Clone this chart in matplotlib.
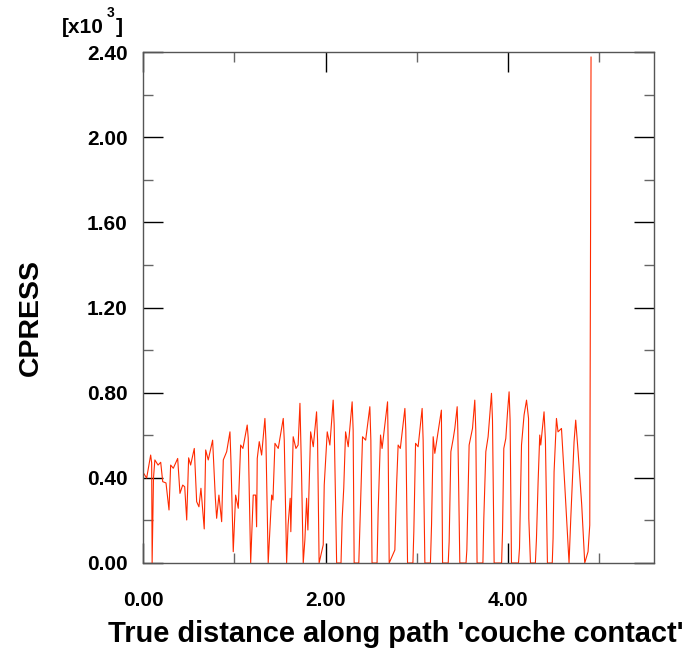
import matplotlib.pyplot as plt
from matplotlib.ticker import FixedLocator, FormatStrFormatter

plt.rcParams["font.family"] = ["Liberation Sans", "DejaVu Sans"]

# path distance and contact pressure
distance = [
    0.00, 0.04, 0.084, 0.095, 0.10, 0.115, 0.13, 0.165, 0.194, 0.216,
    0.252, 0.285, 0.303, 0.332, 0.38, 0.405, 0.435, 0.457, 0.479, 0.50,
    0.522, 0.562, 0.588, 0.613, 0.635, 0.671, 0.687, 0.715, 0.763, 0.792,
    0.807, 0.832, 0.862, 0.88, 0.917, 0.953, 0.964, 0.989, 1.015, 1.044,
    1.07, 1.095, 1.142, 1.153, 1.18, 1.208, 1.234, 1.245, 1.252, 1.274,
    1.30, 1.336, 1.347, 1.372, 1.41, 1.424, 1.446, 1.482, 1.537, 1.548,
    1.574, 1.59, 1.613, 1.62, 1.646, 1.676, 1.70, 1.72, 1.738, 1.756,
    1.774, 1.793, 1.807, 1.837, 1.866, 1.902, 1.913, 1.93, 1.975, 1.986,
    2.019, 2.048, 2.084, 2.095, 2.122, 2.17, 2.183, 2.20, 2.22, 2.249,
    2.292, 2.303, 2.314, 2.365, 2.377, 2.406, 2.44, 2.486, 2.497, 2.51,
    2.565, 2.577, 2.603, 2.62, 2.68, 2.686, 2.698, 2.76, 2.779, 2.796,
    2.82, 2.87, 2.88, 2.899, 2.958, 2.968, 2.987, 3.015, 3.059, 3.07,
    3.089, 3.15, 3.162, 3.18, 3.198, 3.27, 3.283, 3.345, 3.355, 3.374,
    3.40, 3.417, 3.443, 3.45, 3.472, 3.54, 3.549, 3.574, 3.611, 3.636,
    3.647, 3.661, 3.725, 3.735, 3.757, 3.782, 3.819, 3.83, 3.848, 3.93,
    3.94, 3.954, 3.976, 3.995, 4.012, 4.023, 4.038, 4.115, 4.126, 4.148,
    4.176, 4.203, 4.225, 4.228, 4.246, 4.30, 4.312, 4.33, 4.348, 4.359,
    4.395, 4.41, 4.432, 4.485, 4.494, 4.505, 4.531, 4.548, 4.586, 4.622,
    4.669, 4.688, 4.724, 4.742, 4.768, 4.808, 4.841, 4.877, 4.896, 4.91,
]
cpress = [
    426, 399, 507, 470, 0, 400, 484, 460, 473, 382,
    376, 249, 460, 445, 491, 327, 366, 358, 202, 494,
    460, 538, 288, 264, 351, 160, 531, 484, 577, 311,
    210, 319, 194, 484, 523, 616, 476, 53, 319, 257,
    554, 538, 648, 587, 0, 319, 319, 170, 491, 570,
    507, 679, 577, 0, 319, 296, 562, 538, 679, 577,
    0, 178, 304, 147, 593, 538, 554, 750, 413, 0,
    108, 304, 155, 616, 546, 710, 577, 0, 85, 366,
    616, 554, 765, 648, 0, 0, 210, 352, 616, 546,
    757, 624, 0, 0, 178, 593, 577, 734, 577, 0,
    0, 241, 601, 538, 757, 577, 0, 61, 366, 554,
    538, 726, 624, 0, 0, 147, 562, 546, 726, 577,
    0, 0, 178, 593, 515, 718, 0, 0, 100, 523,
    585, 632, 734, 624, 0, 0, 61, 554, 632, 765,
    624, 0, 0, 210, 523, 593, 797, 671, 0, 0,
    147, 538, 585, 710, 804, 671, 0, 0, 69, 554,
    695, 765, 679, 210, 0, 0, 116, 382, 601, 554,
    710, 577, 0, 0, 116, 429, 679, 616, 632, 366,
    0, 210, 570, 671, 523, 272, 0, 53, 178, 2376,
]

fig = plt.figure(figsize=(6.9, 6.55), dpi=100)
ax = fig.add_axes([143 / 690, 92 / 655, 511 / 690, 511 / 655])

ax.plot(distance, [v / 1000 for v in cpress], color="#ff2a00", linewidth=0.8)

ax.set_xlim(0, 5.6)
ax.set_ylim(0, 2.4)
ax.xaxis.set_major_locator(FixedLocator([0, 2, 4]))
ax.xaxis.set_minor_locator(FixedLocator([1, 3, 5]))
ax.yaxis.set_major_locator(FixedLocator([0, 0.4, 0.8, 1.2, 1.6, 2.0, 2.4]))
ax.yaxis.set_minor_locator(FixedLocator([0.2, 0.6, 1.0, 1.4, 1.8, 2.2]))
ax.xaxis.set_major_formatter(FormatStrFormatter("%.2f"))
ax.yaxis.set_major_formatter(FormatStrFormatter("%.2f"))

ax.tick_params(which="both", direction="in", top=True, right=True)
ax.tick_params(which="major", length=14.4, width=1, color="black",
               labelsize=15, pad=11)
ax.tick_params(axis="x", which="major", pad=20)
ax.tick_params(which="minor", length=7.2, width=1, color="#666666")
for lab in ax.get_xticklabels() + ax.get_yticklabels():
    lab.set_fontweight("bold")
for s in ax.spines.values():
    s.set_color("#555555")
    s.set_linewidth(1)

fig.text(396 / 690, 1 - 642 / 655, "True distance along path 'couche contact'",
         fontsize=20.9, fontweight="bold", ha="center", va="baseline")
fig.text(31 / 690, 1 - 318 / 655, "CPRESS", fontsize=20.5, fontweight="bold",
         rotation=90, ha="center", va="center")

fig.text(62 / 690, 1 - 33 / 655, "[x10", fontsize=15, fontweight="bold",
         ha="left", va="baseline")
fig.text(107 / 690, 1 - 17 / 655, "3", fontsize=10, fontweight="bold",
         ha="left", va="baseline")
fig.text(116 / 690, 1 - 33 / 655, "]", fontsize=15, fontweight="bold",
         ha="left", va="baseline")

fig.savefig("out.png", dpi=100)
